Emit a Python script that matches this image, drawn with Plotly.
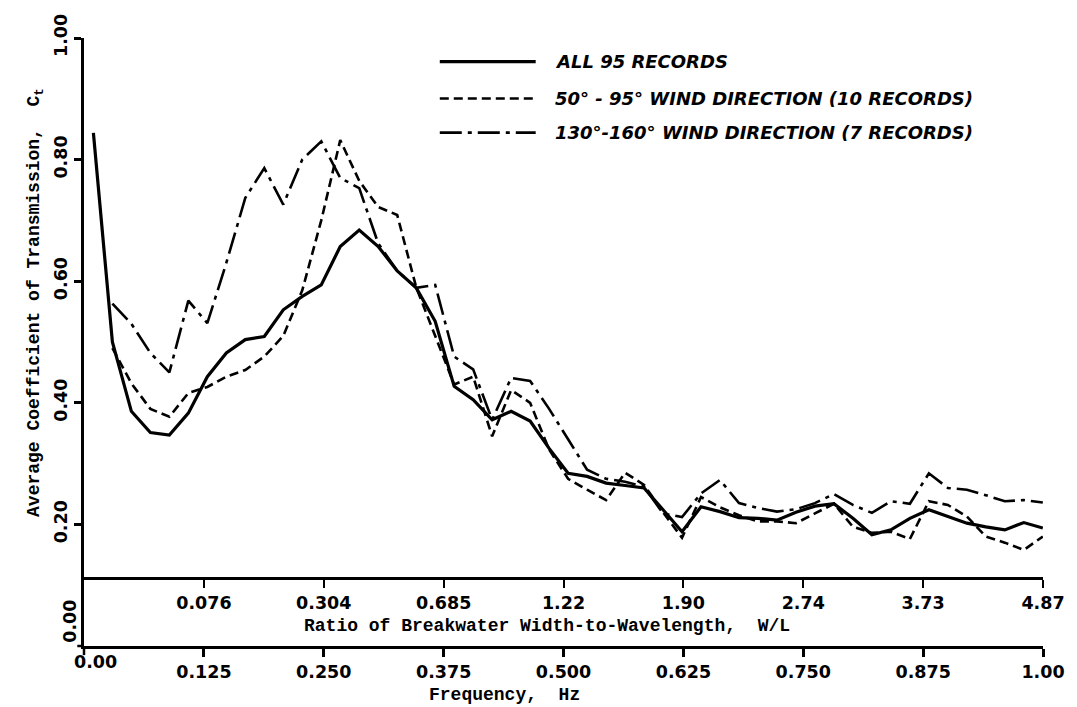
import plotly.graph_objects as go

# Frequency of each spectral estimate (Hz)
FREQ_HZ = [
    0.0098, 0.0296, 0.0494, 0.0692, 0.0890, 0.1088, 0.1286, 0.1484, 0.1682, 0.1880,
    0.2078, 0.2276, 0.2474, 0.2672, 0.2870, 0.3068, 0.3266, 0.3464, 0.3662, 0.3860,
    0.4058, 0.4256, 0.4454, 0.4652, 0.4850, 0.5048, 0.5246, 0.5444, 0.5642, 0.5840,
    0.6038, 0.6236, 0.6434, 0.6632, 0.6830, 0.7028, 0.7226, 0.7424, 0.7622, 0.7820,
    0.8018, 0.8216, 0.8414, 0.8612, 0.8810, 0.9008, 0.9206, 0.9404, 0.9602, 0.9800,
    0.9998,
]

# Average transmission coefficient, all 95 records
ALL_95 = [
    0.844, 0.500, 0.386, 0.351, 0.347, 0.383, 0.443, 0.482, 0.504, 0.509,
    0.553, 0.575, 0.594, 0.657, 0.684, 0.657, 0.617, 0.589, 0.534, 0.427,
    0.405, 0.372, 0.386, 0.370, 0.325, 0.284, 0.279, 0.268, 0.264, 0.260,
    0.224, 0.188, 0.229, 0.221, 0.211, 0.210, 0.207, 0.220, 0.230, 0.234,
    0.210, 0.183, 0.191, 0.210, 0.224, 0.213, 0.202, 0.196, 0.191, 0.203,
    0.194,
]

# 50-95 degree wind direction (10 records)
WIND_50_95 = [
    None, 0.490, 0.432, 0.390, 0.377, 0.416, 0.426, 0.443, 0.454, 0.476,
    0.510, 0.585, 0.700, 0.832, 0.765, 0.722, 0.709, 0.590, 0.510, 0.430,
    0.443, 0.345, 0.421, 0.400, 0.323, 0.275, 0.257, 0.240, 0.285, 0.265,
    0.220, 0.178, 0.245, 0.228, 0.215, 0.205, 0.205, 0.202, 0.218, 0.234,
    0.196, 0.186, 0.188, 0.176, 0.238, 0.232, 0.213, 0.180, 0.170, 0.158,
    0.180,
]

# 130-160 degree wind direction (7 records)
WIND_130_160 = [
    None, 0.563, 0.530, 0.482, 0.450, 0.568, 0.531, 0.630, 0.737, 0.786,
    0.726, 0.800, 0.830, 0.770, 0.753, 0.662, 0.617, 0.589, 0.594, 0.476,
    0.455, 0.372, 0.441, 0.436, 0.390, 0.340, 0.290, 0.275, 0.270, 0.262,
    0.218, 0.212, 0.251, 0.273, 0.235, 0.227, 0.221, 0.225, 0.235, 0.250,
    0.232, 0.219, 0.238, 0.234, 0.284, 0.260, 0.257, 0.248, 0.238, 0.240,
    0.236,
]

SERIES_NAMES = [
    "ALL 95 RECORDS",
    "50\u00b0 - 95\u00b0 WIND DIRECTION (10 RECORDS)",
    "130\u00b0-160\u00b0 WIND DIRECTION (7 RECORDS)",
]

FREQ_TICKS = [0.0, 0.125, 0.25, 0.375, 0.5, 0.625, 0.75, 0.875, 1.0]
FREQ_LABELS = ["0.00", "0.125", "0.250", "0.375", "0.500", "0.625", "0.750", "0.875", "1.00"]
WL_LABELS = ["0.076", "0.304", "0.685", "1.22", "1.90", "2.74", "3.73", "4.87"]
CT_TICKS = [0.0, 0.2, 0.4, 0.6, 0.8, 1.0]
CT_LABELS = ["0.00", "0.20", "0.40", "0.60", "0.80", "1.00"]

WL_AXIS_POS = 0.112          # height of the W/L scale inside the frame
TICK_FONT = dict(family="DejaVu Sans", size=17.5, color="black", weight="bold")
MONO_FONT = dict(family="Liberation Mono", size=18, color="black", weight="bold")
LEGEND_FONT = dict(family="DejaVu Sans", size=18, color="black", weight="bold", style="italic")

DASHES = ["solid", "9px,5px", "22px,6px,4px,6px"]
WIDTHS = [3.2, 2.6, 2.6]

fig = go.Figure()
for name, ys, dash, w in zip(SERIES_NAMES, [ALL_95, WIND_50_95, WIND_130_160], DASHES, WIDTHS):
    fig.add_trace(go.Scatter(
        x=FREQ_HZ, y=ys, mode="lines", name=name,
        line=dict(color="black", width=w, dash=dash),
        showlegend=False, connectgaps=False,
    ))

# carrier trace so the W/L scale is drawn
fig.add_trace(go.Scatter(x=FREQ_HZ, y=ALL_95, xaxis="x2", mode="lines",
                         line=dict(width=0), opacity=0, hoverinfo="skip", showlegend=False))

annotations = []
shapes = []

# legend: sample lines drawn with shapes, labels as annotations
leg_y = [0.9613, 0.9004, 0.8444]
for name, dash, w, yy in zip(SERIES_NAMES, DASHES, WIDTHS, leg_y):
    shapes.append(dict(type="line", xref="paper", yref="paper", x0=0.371, x1=0.471, y0=yy, y1=yy,
                       line=dict(color="black", width=w, dash=dash)))
    annotations.append(dict(xref="paper", yref="paper", x=0.4886, y=yy, xanchor="left", yanchor="middle",
                            text=name, showarrow=False, font=LEGEND_FONT))

# tick marks at the origin of both scales
shapes.append(dict(type="line", xref="paper", yref="paper", x0=0, x1=0, y0=0, y1=-0.015,
                   line=dict(color="black", width=2.5)))
shapes.append(dict(type="line", xref="paper", yref="paper", x0=0, x1=-0.007, y0=0, y1=0,
                   line=dict(color="black", width=2.5)))

# axis titles
annotations.append(dict(xref="paper", yref="paper", x=-0.0506, y=0.565, textangle=-90,
                        text="Average Coefficient of Transmission,  C<sub>t</sub>",
                        showarrow=False, font=MONO_FONT, xanchor="center", yanchor="middle"))
annotations.append(dict(xref="paper", yref="paper", x=0.438, y=-0.081,
                        text="Frequency,  Hz", showarrow=False, font=MONO_FONT,
                        xanchor="center", yanchor="middle"))
annotations.append(dict(xref="paper", yref="paper", x=0.4825, y=0.0335,
                        text="Ratio of Breakwater Width-to-Wavelength,  W/L", showarrow=False,
                        font=MONO_FONT, xanchor="center", yanchor="middle"))

# origin labels, nudged apart so they do not collide
annotations.append(dict(xref="paper", yref="paper", x=-0.0145, y=0.04, textangle=-90,
                        text=CT_LABELS[0], showarrow=False, font=TICK_FONT,
                        xanchor="center", yanchor="middle"))
annotations.append(dict(xref="paper", yref="paper", x=0.0124, y=-0.027,
                        text=FREQ_LABELS[0], showarrow=False, font=TICK_FONT,
                        xanchor="center", yanchor="middle"))

fig.update_layout(
    width=1077, height=707,
    margin=dict(l=84, r=25, t=38, b=61),
    paper_bgcolor="white", plot_bgcolor="white",
    xaxis=dict(range=[0, 1], tickvals=FREQ_TICKS[1:], ticktext=FREQ_LABELS[1:],
               showline=True, linewidth=3, linecolor="black", ticks="outside", ticklen=8,
               tickwidth=2.5, tickcolor="black", showgrid=False, zeroline=False,
               tickfont=TICK_FONT, fixedrange=True),
    xaxis2=dict(range=[0, 1], overlaying="x", anchor="free", position=WL_AXIS_POS, side="bottom",
                tickvals=FREQ_TICKS[1:], ticktext=WL_LABELS,
                showline=True, linewidth=2.5, linecolor="black", ticks="outside", ticklen=8,
                tickwidth=2.2, tickcolor="black", showgrid=False, zeroline=False,
                tickfont=TICK_FONT, fixedrange=True),
    yaxis=dict(range=[0, 1], tickvals=CT_TICKS[1:], ticktext=CT_LABELS[1:], tickangle=-90,
               showline=True, linewidth=3, linecolor="black", ticks="outside", ticklen=7,
               tickwidth=2.5, tickcolor="black", showgrid=False, zeroline=False,
               tickfont=TICK_FONT, fixedrange=True),
    annotations=annotations,
    shapes=shapes,
)

fig.write_html("out.html")
